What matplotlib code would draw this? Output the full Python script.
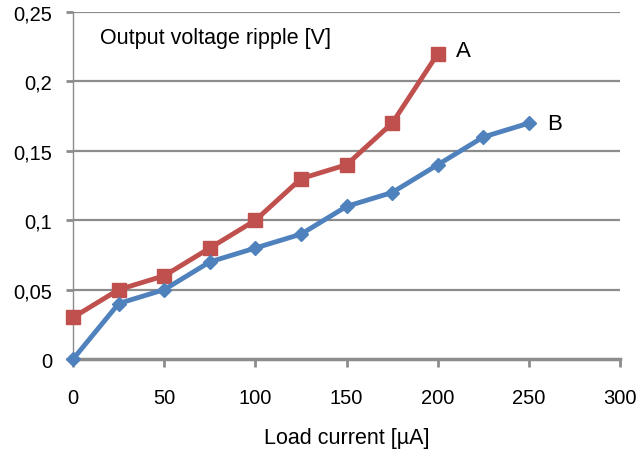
import matplotlib.pyplot as plt
from matplotlib.ticker import FuncFormatter

# load current [uA] and ripple [V]
current_a = [0, 25, 50, 75, 100, 125, 150, 175, 200]
ripple_a = [0.03, 0.05, 0.06, 0.08, 0.10, 0.13, 0.14, 0.17, 0.22]
current_b = [0, 25, 50, 75, 100, 125, 150, 175, 200, 225, 250]
ripple_b = [0.0, 0.04, 0.05, 0.07, 0.08, 0.09, 0.11, 0.12, 0.14, 0.16, 0.17]
x_ticks = [0, 50, 100, 150, 200, 250, 300]
y_ticks = [0, 0.05, 0.1, 0.15, 0.2, 0.25]

plt.rcParams['font.family'] = ['Liberation Sans', 'DejaVu Sans']

fig = plt.figure(figsize=(6.36, 4.52), dpi=100)
ax = fig.add_axes([0.115, 0.2035, 0.86, 0.7675])

grey = '#8c8c8c'
for y in y_ticks[1:]:
    ax.axhline(y, color=grey, lw=1.6, zorder=1)

ax.plot(current_a, ripple_a, color='#c0504d', lw=3.5, marker='s', ms=10,
        zorder=3, clip_on=False)
ax.plot(current_b, ripple_b, color='#4f81bd', lw=3.5, marker='D', ms=7.5,
        zorder=3, clip_on=False)

ax.text(current_a[-1] + 10, ripple_a[-1] + 0.002, 'A', fontsize=16, va='center')
ax.text(current_b[-1] + 10, ripple_b[-1], 'B', fontsize=16, va='center')
ax.text(15, 0.232, 'Output voltage ripple [V]', fontsize=15.5, va='center')

ax.set_xlim(0, 300)
ax.set_ylim(0, 0.25)
ax.set_xticks(x_ticks)
ax.set_yticks(y_ticks)
ax.yaxis.set_major_formatter(FuncFormatter(lambda v, p: ('%g' % v).replace('.', ',')))
ax.set_xlabel('Load current [µA]', fontsize=15.5, labelpad=14)

for s in ['top', 'right']:
    ax.spines[s].set_visible(False)
ax.spines['left'].set_color(grey)
ax.spines['left'].set_linewidth(1)
ax.spines['bottom'].set_color(grey)
ax.spines['bottom'].set_linewidth(2.5)
ax.tick_params(axis='x', length=6, width=2, color=grey, labelsize=14.5, pad=15)
ax.tick_params(axis='y', length=5, width=2, color=grey, labelsize=14.5, pad=10)

fig.savefig('out.png', dpi=100)
